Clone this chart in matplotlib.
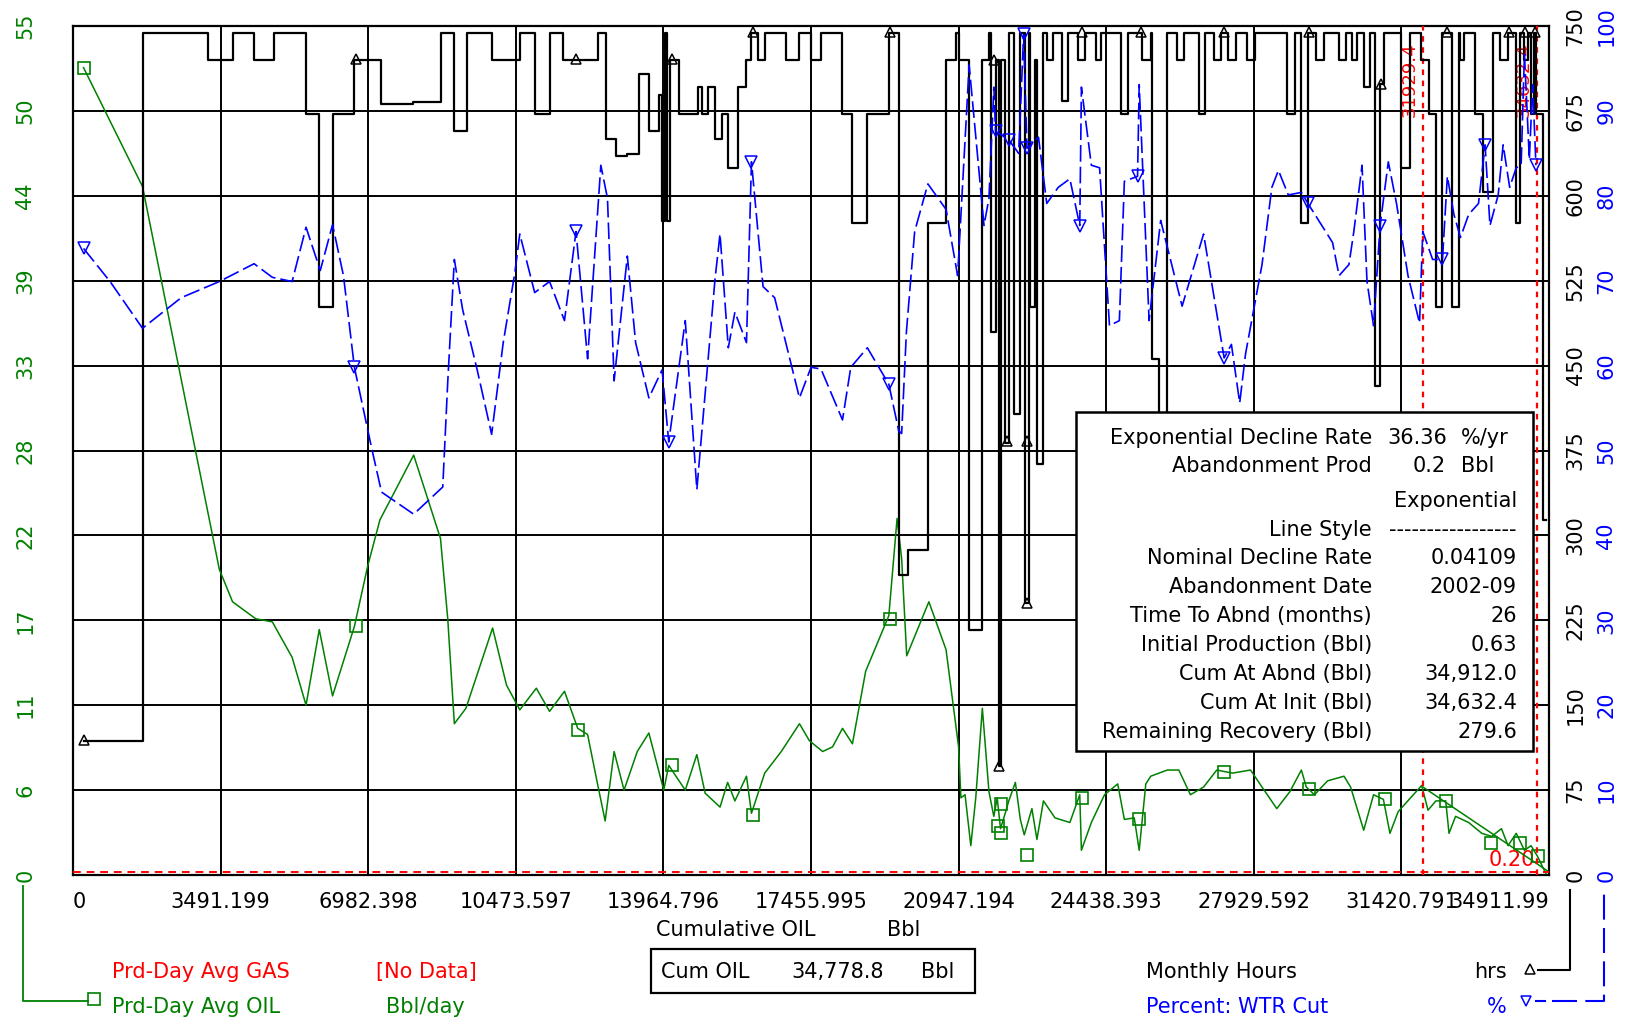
import matplotlib
matplotlib.use("Agg")
import matplotlib.pyplot as plt
from matplotlib.lines import Line2D
from matplotlib.patches import Rectangle

plt.rcParams['font.family'] = ['DejaVu Sans']

W, H = 1627, 1021
GREEN = '#008000'
BLUE = '#0000ff'
RED = '#ff0000'

# ---- data ----
# Prd-Day Avg OIL (Bbl/day) vs cumulative oil (Bbl)
oil_cum = [250, 1644, 3461, 3774, 4322, 4714, 5183, 5512, 5825, 6139, 6656, 6969, 7259,
           8058, 8692, 8864, 9020, 9294, 9925, 10254, 10568, 10959, 11272, 11625, 11938,
           12172, 12407, 12587, 12799, 13034, 13347, 13621, 13973, 14091, 14482, 14756,
           14952, 15304, 15484, 15656, 15930, 16048, 16361, 16753, 17183, 17418, 17731,
           17966, 18201, 18436, 18749, 19297, 19492, 19600, 19720, 20244, 20650, 20947,
           21002, 21100, 21236, 21353, 21509, 21665, 21780, 21860, 21939, 22050, 22134,
           22290, 22407, 22500, 22681, 22800, 22954, 23227, 23579, 23813, 23852, 24087,
           24399, 24711, 24868, 25102, 25219, 25375, 25492, 25883, 26156, 26430, 26742,
           27054, 27425, 27852, 28124, 28473, 28783, 29055, 29171, 29365, 29675, 30063,
           30219, 30529, 30762, 30995, 31150, 31344, 31900, 32050, 32237, 32469, 32547,
           32702, 33012, 33322, 33555, 33788, 33943, 34137, 34331, 34487, 34642, 34836]
oil_rate = [52.3, 44.6, 19.8, 17.7, 16.6, 16.4, 14.1, 11.0, 15.9, 11.6, 16.1, 20.0, 23.0,
            27.2, 21.8, 16.6, 9.8, 10.8, 16.0, 12.3, 10.7, 12.1, 10.6, 11.9, 9.5,
            9.1, 5.9, 3.5, 8.0, 5.5, 8.0, 9.2, 5.5, 7.1, 5.5, 7.8,
            5.3, 4.4, 6.0, 4.8, 6.4, 4.0, 6.6, 8.0, 9.8, 8.7, 8.0,
            8.3, 9.5, 8.5, 13.2, 16.8, 23.1, 20.5, 14.2, 17.7, 14.6, 8.3,
            5.0, 5.2, 1.9, 5.0, 10.8, 5.4, 3.8, 5.0, 3.0, 4.0, 4.8,
            6.0, 3.6, 2.6, 4.3, 2.3, 4.8, 3.7, 3.4, 5.2, 1.6, 3.4,
            5.2, 5.9, 3.6, 3.7, 1.6, 5.9, 6.4, 6.8, 6.8, 5.2, 5.7,
            6.8, 6.6, 6.8, 5.7, 4.3, 5.4, 6.8, 5.7, 5.2, 6.1, 6.4,
            5.7, 2.9, 5.2, 4.9, 2.7, 4.1, 5.8, 4.2, 4.8, 4.8, 2.7,
            3.8, 3.4, 2.7, 2.5, 3.0, 1.9, 2.7, 1.6, 1.9, 1.2, 0.1]
oil_mk_cum = [270, 6697, 11946, 14178, 16092, 19330, 21955, 21881, 21955, 22568, 23868,
              25217, 27228, 29240, 31030, 32478, 33533, 34220, 34661]
oil_mk_rate = [52.3, 16.1, 9.4, 7.1, 3.9, 16.6, 4.6, 3.2, 2.7, 1.3, 5.0,
               3.6, 6.7, 5.6, 4.9, 4.8, 2.1, 2.1, 1.2]

# Percent: WTR Cut
wtr_cum = [250, 877, 1644, 2560, 3461, 4283, 4714, 5183, 5512, 5849, 6139, 6397, 6656,
           7063, 7298, 8058, 8746, 8864, 9020, 9216, 9560, 9902, 10176, 10450, 10568,
           10920, 11272, 11625, 11898, 12172, 12485, 12642, 12799, 13112, 13308, 13621,
           13934, 14091, 14482, 14756, 15186, 15304, 15500, 15656, 15930, 16048, 16322,
           16596, 17183, 17457, 17692, 18201, 18397, 18789, 19297, 19532, 19600, 19713,
           19908, 20221, 20650, 20924, 21197, 21548, 21665, 21782, 21821, 22134, 22368,
           22485, 22564, 22837, 23032, 23305, 23579, 23813, 23852, 24087, 24282, 24516,
           24750, 24868, 25180, 25219, 25453, 25727, 26234, 26742, 27228, 27400, 27596,
           27735, 28124, 28357, 28512, 28745, 29055, 29210, 29792, 29947, 30180, 30296,
           30490, 30607, 30762, 30917, 31111, 31305, 31577, 31850, 31926, 32159, 32392,
           32508, 32663, 32818, 33012, 33245, 33400, 33516, 33710, 33827, 33982, 34137,
           34253, 34331, 34447, 34525, 34603]
wtr_pct = [73.8, 69.9, 64.4, 68.0, 69.9, 72.0, 70.4, 69.9, 76.3, 71.2, 76.6, 70.6, 59.8,
           50.3, 45.1, 42.5, 45.7, 58.1, 72.5, 66.6, 59.5, 51.9, 62.7, 70.9, 75.5,
           68.6, 69.9, 65.3, 75.8, 60.8, 83.6, 79.7, 58.2, 72.9, 62.7, 56.2,
           59.5, 51.0, 65.3, 45.4, 70.2, 75.5, 62.1, 66.3, 62.7, 84.0, 69.3,
           68.0, 56.2, 59.8, 59.6, 53.6, 59.8, 62.1, 57.8, 52.3, 52.0, 64.0,
           75.8, 81.4, 78.4, 70.6, 95.4, 76.5, 79.7, 92.8, 87.6, 86.6, 85.0,
           99.0, 85.6, 86.9, 79.1, 81.0, 82.0, 76.5, 92.8, 83.6, 83.3, 64.7,
           65.3, 81.7, 82.3, 93.1, 65.3, 77.1, 67.0, 75.5, 60.9, 62.5, 55.6,
           61.4, 71.9, 81.0, 83.0, 80.1, 80.4, 79.1, 74.5, 70.6, 71.9, 75.8,
           83.6, 69.9, 64.7, 76.5, 84.0, 79.1, 70.6, 65.0, 75.8, 72.5, 72.5,
           82.3, 77.8, 75.1, 77.8, 79.1, 86.0, 76.5, 80.1, 86.0, 81.0, 83.3,
           83.6, 96.7, 84.3, 93.1, 83.6]
wtr_mk_cum = [250, 6656, 11898, 14091, 16048, 19297, 21821, 22134, 22485, 22564, 23813,
              25180, 27228, 29210, 30917, 32392, 33400, 34603]
wtr_mk_pct = [73.8, 59.8, 75.8, 51.0, 84.0, 57.8, 87.6, 86.6, 99.0, 85.6, 76.5,
              82.3, 60.9, 79.1, 76.5, 72.5, 86.0, 83.6]

# Monthly Hours (step)
hrs_cum = [250, 1644, 3187, 3774, 4283, 4753, 5512, 5825, 6139, 6656, 7282, 8041, 8707,
           9020, 9318, 9902, 10568, 10920, 11272, 11585, 12407, 12603, 12838, 13112, 13386,
           13621, 13856, 13934, 14010, 14060, 14130, 14325, 14779, 14874, 15030, 15186,
           15343, 15500, 15735, 15930, 16048, 16205, 16361, 16870, 17183, 17457, 17692,
           18201, 18436, 18789, 19297, 19532, 19752, 20221, 20650, 20885, 20963, 21197,
           21509, 21660, 21704, 21821, 21900, 21939, 22056, 22134, 22251, 22407, 22525,
           22603, 22642, 22759, 22798, 22954, 23032, 23188, 23383, 23540, 23774, 23930,
           24200, 24320, 24790, 24946, 25297, 25492, 25530, 25690, 25880, 26117, 26273,
           26625, 26781, 27000, 27150, 27309, 27503, 27774, 27968, 28706, 28900, 29055,
           29210, 29404, 29598, 29947, 30102, 30257, 30374, 30529, 30684, 30800, 30917,
           31000, 31422, 31616, 31887, 32081, 32237, 32390, 32624, 32779, 32818, 32896,
           33167, 33362, 33594, 33750, 33943, 34138, 34215, 34330, 34420, 34480, 34560,
           34600, 34760, 34830]
hrs_val = [118, 744, 720, 744, 720, 744, 672, 502, 672, 720, 681, 683, 744,
           657, 744, 720, 744, 672, 744, 720, 744, 650, 635, 637, 708,
           657, 689, 578, 744, 578, 720, 672, 696, 672, 696, 650,
           672, 625, 696, 720, 744, 720, 744, 720, 744, 720, 744,
           672, 576, 672, 744, 265, 287, 576, 720, 744, 720, 216,
           720, 744, 480, 720, 96, 720, 382, 744, 407, 744, 240,
           744, 502, 720, 363, 744, 720, 744, 684, 744, 720, 744,
           720, 744, 672, 744, 720, 744, 456, 356, 744, 720, 744,
           672, 744, 720, 744, 720, 744, 720, 744, 672, 744, 576,
           744, 720, 744, 720, 744, 720, 744, 696, 744, 432, 699,
           744, 625, 744, 720, 672, 502, 744, 502, 744, 720, 744,
           672, 603, 744, 720, 744, 576, 744, 720, 744, 672, 744,
           672, 314, 314]
hrs_mk_cum = [270, 6697, 11897, 14178, 16091, 19329, 21782, 21905, 22095, 22560, 22560,
              23868, 25266, 27228, 29240, 30950, 32502, 33974, 34342, 34587]
hrs_mk_val = [119, 721, 721, 721, 745, 745, 720, 96, 383, 383, 240,
              745, 745, 745, 745, 699, 745, 745, 745, 745]

# decline analysis
decl_cum = [31929.4, 34911.99]
decl_rate = [5.7, 0.2]
aband_rate = 0.2
marker_cums = [31929.4, 34632.4]

x_ticks = [0, 3491.199, 6982.398, 10473.597, 13964.796, 17455.995, 20947.194,
           24438.393, 27929.592, 31420.791, 34911.99]
x_labels = ['0', '3491.199', '6982.398', '10473.597', '13964.796', '17455.995',
            '20947.194', '24438.393', '27929.592', '31420.791', '34911.99']
oil_ticks = [0, 5.5, 11, 16.5, 22, 27.5, 33, 38.5, 44, 49.5, 55]
oil_labels = ['0', '6', '11', '17', '22', '28', '33', '39', '44', '50', '55']
hrs_ticks = [0, 75, 150, 225, 300, 375, 450, 525, 600, 675, 750]
pct_ticks = [0, 10, 20, 30, 40, 50, 60, 70, 80, 90, 100]

info_rows = [("Nominal Decline Rate", "0.04109"),
             ("Abandonment Date", "2002-09"),
             ("Time To Abnd (months)", "26"),
             ("Initial Production (Bbl)", "0.63"),
             ("Cum At Abnd (Bbl)", "34,912.0"),
             ("Cum At Init (Bbl)", "34,632.4"),
             ("Remaining Recovery (Bbl)", "279.6")]


def fx(px):
    return px / W


def fy(py):
    return 1 - py / H


fig = plt.figure(figsize=(W / 100, H / 100), dpi=100)
ax = fig.add_axes([fx(73), fy(875), (1549 - 73) / W, (875 - 26) / H])
ax_h = ax.twinx()
ax_w = ax.twinx()

ax.set_xlim(0, 34911.99)
ax.set_ylim(0, 55)
ax_h.set_ylim(0, 750)
ax_w.set_ylim(0, 100)

ax.set_xticks(x_ticks)
ax.set_xticklabels(x_labels, fontsize=15)
xl = ax.get_xticklabels()
xl[0].set_ha('left')
xl[-1].set_ha('right')
ax.set_yticks(oil_ticks)
ax.set_yticklabels(oil_labels, fontsize=15, color=GREEN, rotation=90, va='center')
ax.tick_params(axis='x', length=0, pad=12)
ax.tick_params(axis='y', length=0, pad=27)
ax.grid(True, color='black', lw=1.4)
for s in ax.spines.values():
    s.set_linewidth(1.6)

ax_h.set_yticks(hrs_ticks)
ax_h.set_yticklabels([str(v) for v in hrs_ticks], fontsize=15, rotation=90, va='center')
ax_h.tick_params(length=0, pad=12)
ax_w.set_yticks(pct_ticks)
ax_w.set_yticklabels([str(v) for v in pct_ticks], fontsize=15, color=BLUE, rotation=90, va='center')
ax_w.tick_params(length=0, pad=34)
for a in (ax_h, ax_w):
    for s in a.spines.values():
        s.set_visible(False)

# series
ax.plot(oil_cum, oil_rate, color=GREEN, lw=1.1, zorder=3)
ax.plot(oil_mk_cum, oil_mk_rate, ls='none', marker='s', ms=9, mfc='none', mec=GREEN, mew=1.2, zorder=3)
ax.plot(decl_cum, decl_rate, color=GREEN, lw=1.1, zorder=3)
ax.axhline(aband_rate, color=RED, lw=1.4, ls=(0, (4, 3)), zorder=3)
for c in marker_cums:
    ax.axvline(c, color=RED, lw=1.6, ls=(0, (2.5, 2.5)), zorder=3)
    ax.annotate(f"{c:.1f}", xy=(c, 55), xytext=(-3, -12), textcoords='offset points',
                rotation=90, ha='right', va='top', color=RED, fontsize=13)
ax.text(33490, 1.0, "0.20", color=RED, fontsize=15, ha='left', va='center', zorder=2)

ax_h.plot(hrs_cum, hrs_val, drawstyle='steps-post', color='black', lw=1.6)
ax_h.plot(hrs_mk_cum, hrs_mk_val, ls='none', marker='^', ms=7, mfc='none', mec='black', mew=1.1)

ax_w.plot(wtr_cum, wtr_pct, color=BLUE, lw=1.2, ls=(0, (10, 3)))
ax_w.plot(wtr_mk_cum, wtr_mk_pct, ls='none', marker='v', ms=8, mfc='none', mec=BLUE, mew=1.1)

# info box
fig.add_artist(Rectangle((fx(1076), fy(751)), (1533 - 1076) / W, (751 - 412) / H,
                         transform=fig.transFigure, facecolor='white', edgecolor='black', lw=1.8, zorder=5))
tk = dict(fontsize=15, va='center', zorder=6)
fig.text(fx(1372), fy(438), "Exponential Decline Rate", ha='right', **tk)
fig.text(fx(1387), fy(438), "36.36", ha='left', **tk)
fig.text(fx(1461), fy(438), "%/yr", ha='left', **tk)
fig.text(fx(1372), fy(466), "Abandonment Prod", ha='right', **tk)
fig.text(fx(1413), fy(466), "0.2", ha='left', **tk)
fig.text(fx(1461), fy(466), "Bbl", ha='left', **tk)
fig.text(fx(1517), fy(501), "Exponential", ha='right', **tk)
fig.text(fx(1372), fy(530), "Line Style", ha='right', **tk)
fig.text(fx(1517), fy(530), "-" * 17, ha='right', **tk)
for i, (lab, val) in enumerate(info_rows):
    yy = 558 + i * 29
    fig.text(fx(1372), fy(yy), lab, ha='right', **tk)
    fig.text(fx(1517), fy(yy), val, ha='right', **tk)

# x axis title and cum box
fig.text(fx(656), fy(930), "Cumulative OIL", fontsize=15, va='center')
fig.text(fx(887), fy(930), "Bbl", fontsize=15, va='center')
fig.add_artist(Rectangle((fx(651), fy(993)), (975 - 651) / W, (993 - 949) / H,
                         transform=fig.transFigure, facecolor='white', edgecolor='black', lw=1.6))
fig.text(fx(661), fy(972), "Cum OIL", fontsize=15, va='center')
fig.text(fx(791), fy(972), "34,778.8", fontsize=15, va='center')
fig.text(fx(921), fy(972), "Bbl", fontsize=15, va='center')

# legend (left)
fig.text(fx(112), fy(972), "Prd-Day Avg GAS", color=RED, fontsize=15, va='center')
fig.text(fx(376), fy(972), "[No Data]", color=RED, fontsize=15, va='center')
fig.text(fx(112), fy(1007), "Prd-Day Avg OIL", color=GREEN, fontsize=15, va='center')
fig.text(fx(386), fy(1007), "Bbl/day", color=GREEN, fontsize=15, va='center')
fig.add_artist(Line2D([fx(23), fx(23), fx(88)], [fy(886), fy(1001), fy(1001)],
                      transform=fig.transFigure, color=GREEN, lw=1.3))
fig.add_artist(Line2D([fx(94)], [fy(999)], transform=fig.transFigure, marker='s', ms=9,
                      mfc='none', mec=GREEN, mew=1.2, ls='none'))

# legend (right)
fig.text(fx(1146), fy(972), "Monthly Hours", fontsize=15, va='center')
fig.text(fx(1507), fy(972), "hrs", fontsize=15, va='center', ha='right')
fig.text(fx(1146), fy(1007), "Percent: WTR Cut", color=BLUE, fontsize=15, va='center')
fig.text(fx(1507), fy(1007), "%", color=BLUE, fontsize=15, va='center', ha='right')
fig.add_artist(Line2D([fx(1530)], [fy(969)], transform=fig.transFigure, marker='^', ms=7,
                      mfc='none', mec='black', mew=1.1, ls='none'))
fig.add_artist(Line2D([fx(1538), fx(1570), fx(1570)], [fy(970), fy(970), fy(890)],
                      transform=fig.transFigure, color='black', lw=1.5))
fig.add_artist(Line2D([fx(1526)], [fy(1001)], transform=fig.transFigure, marker='v', ms=7,
                      mfc='none', mec=BLUE, mew=1.1, ls='none'))
fig.add_artist(Line2D([fx(1536), fx(1545)], [fy(1001), fy(1001)],
                      transform=fig.transFigure, color=BLUE, lw=1.5))
fig.add_artist(Line2D([fx(1552), fx(1604), fx(1604)], [fy(1001), fy(1001), fy(890)],
                      transform=fig.transFigure, color=BLUE, lw=1.5, ls=(0, (12, 4))))

fig.savefig("out.png", dpi=100)
